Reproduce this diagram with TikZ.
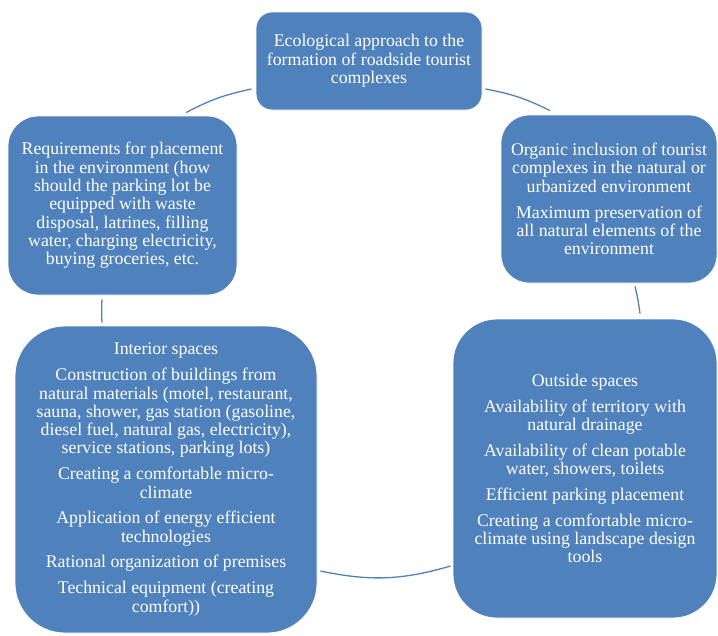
\documentclass[tikz,border=0pt]{standalone}
\usepackage{fontspec}
\setmainfont{Liberation Serif}
\definecolor{boxblue}{HTML}{4F81BD}
\begin{document}
\begin{tikzpicture}[x=1pt,y=1pt,
  box/.style={fill=boxblue, draw=white, line width=0.8pt, text=white, align=center,
    inner sep=0pt, font=\fontsize{17.8}{18.3}\selectfont},
  link/.style={draw=boxblue, line width=1.3pt}]
\useasboundingbox (0,0) rectangle (718,-635);
\def\pg{7.5pt}
\node[box, minimum width=226, minimum height=98, rounded corners=16] (top) at (369,-61)
  {Ecological approach to the\\formation of roadside tourist\\complexes};
\node[box, minimum width=229, minimum height=179, rounded corners=30] (lt) at (122.5,-205.5)
  {Requirements for placement\\in the environment (how\\should the parking lot be\\equipped with waste\\disposal, latrines, filling\\water, charging electricity,\\buying groceries, etc.};
\node[box, minimum width=216, minimum height=168, rounded corners=28] (rt) at (609,-199)
  {Organic inclusion of tourist\\complexes in the natural or\\urbanized environment\\[\pg]Maximum preservation of\\all natural elements of the\\environment};
\node[box, minimum width=302, minimum height=307, rounded corners=50] (bl) at (166,-479.5)
  {Interior spaces\\[\pg]Construction of buildings from\\natural materials (motel, restaurant,\\sauna, shower, gas station (gasoline,\\diesel fuel, natural gas, electricity),\\service stations, parking lots)\\[\pg]Creating a comfortable micro-\\climate\\[\pg]Application of energy efficient\\technologies\\[\pg]Rational organization of premises\\[\pg]Technical equipment (creating\\comfort))};
\node[box, minimum width=264, minimum height=299, rounded corners=44] (br) at (585,-468.5)
  {Outside spaces\\[\pg]Availability of territory with\\natural drainage\\[\pg]Availability of clean potable\\water, showers, toilets\\[\pg]Efficient parking placement\\[\pg]Creating a comfortable micro-\\climate using landscape design\\tools};
\coordinate (a1) at ([xshift=63.5pt,yshift=3pt]lt.north);
\coordinate (a2) at ([xshift=-4pt,yshift=-28pt]top.west);
\coordinate (b1) at ([xshift=3pt,yshift=-28pt]top.east);
\coordinate (b2) at ([xshift=-59pt,yshift=4pt]rt.north);
\coordinate (c1) at ([xshift=26pt,yshift=-3pt]rt.south);
\coordinate (c2) at ([xshift=55pt,yshift=5pt]br.north);
\coordinate (d1) at ([xshift=-2pt,yshift=-97.5pt]br.west);
\coordinate (d2) at ([xshift=3pt,yshift=-91.5pt]bl.east);
\coordinate (e1) at ([xshift=-64pt,yshift=3pt]bl.north);
\coordinate (e2) at ([xshift=-20.5pt,yshift=-4pt]lt.south);
\draw[link] (a1) to[bend left=8] (a2);
\draw[link] (b1) to[bend left=8] (b2);
\draw[link] (c1) to[bend left=3] (c2);
\draw[link] (d1) to[bend left=14] (d2);
\draw[link] (e1) to[bend left=3] (e2);
\end{tikzpicture}
\end{document}
